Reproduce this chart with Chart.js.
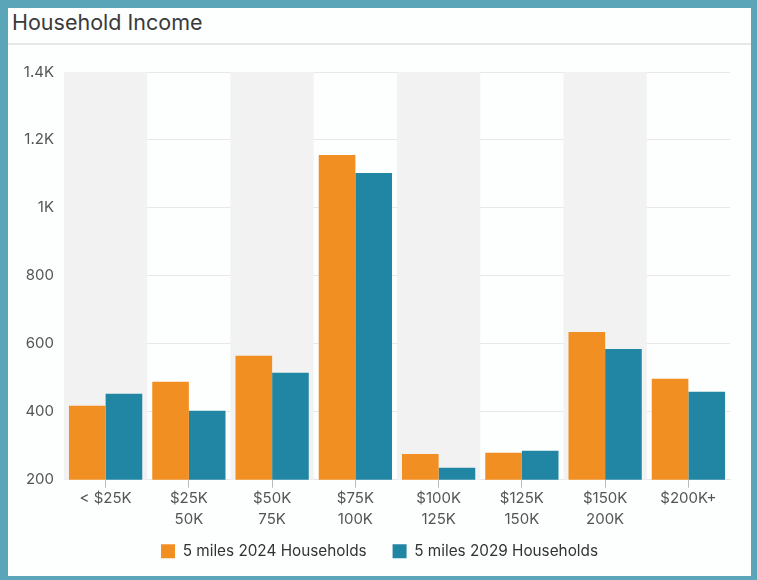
<!DOCTYPE html>
<html>
<head>
<meta charset="utf-8">
<script src="https://cdn.jsdelivr.net/npm/chart.js@4"></script>
<style>
  html, body { margin: 0; padding: 0; }
  body { width: 757px; height: 580px; background: #5ba5b8; position: relative; overflow: hidden; font-family: Inter, "Open Sans", sans-serif; }
  #panel { position: absolute; left: 8px; top: 8px; width: 743px; height: 568px; background: #fdfefe; }
  #title { height: 35px; line-height: 28px; padding-left: 4px; font-size: 21.5px; color: #3a3a3a; border-bottom: 2px solid #e6e8e8; }
  #chart-div { position: absolute; left: 0; top: 37px; width: 743px; height: 531px; }
</style>
</head>
<body>
<div id="panel">
  <div id="title">Household Income</div>
  <div id="chart-div"><canvas id="income-chart"></canvas></div>
</div>
<script>
const incomeBrackets = [['< $25K'], ['$25K', '50K'], ['$50K', '75K'], ['$75K', '100K'], ['$100K', '125K'], ['$125K', '150K'], ['$150K', '200K'], ['$200K+']];
const households2024 = [418, 488, 565, 1156, 276, 279, 635, 497];
const households2029 = [453, 403, 515, 1103, 235, 285, 585, 459];
const yTicks = [200, 400, 600, 800, 1000, 1200, 1400];

const seriesNames = ['5 miles 2024 Households', '5 miles 2029 Households'];
const seriesColors = ['#f28f22', '#2186a3'];

// alternating grey column bands behind the bars
const bandPlugin = {
    id: 'bands',
    beforeDatasetsDraw(chart) {
        const { ctx, chartArea, scales } = chart;
        const x = scales.x;
        ctx.save();
        ctx.fillStyle = '#f2f2f2';
        incomeBrackets.forEach((label, index) => {
            if (index % 2 !== 0) return;
            const center = x.getPixelForValue(index);
            const half = (x.getPixelForValue(1) - x.getPixelForValue(0)) / 2;
            ctx.fillRect(center - half, chartArea.top, half * 2, chartArea.bottom - chartArea.top);
        });
        ctx.restore();
    }
};

const chartJSConfig = {
    type: 'bar',
    data: {
        labels: incomeBrackets,
        datasets: [households2024, households2029].map((values, index) => {
            return {
                label: seriesNames[index],
                data: values,
                yAxisID: 'y',
                backgroundColor: seriesColors[index],
                borderWidth: 0,
                categoryPercentage: 0.88,
                barPercentage: 1.0,
            }
        })
    },
    options: {
        responsive: true,
        maintainAspectRatio: false,
        animation: false,
        layout: { padding: { top: 27, right: 0, bottom: 7, left: 0 } },
        plugins: {
            legend: {
                position: 'bottom',
                labels: {
                    boxWidth: 14,
                    boxHeight: 14,
                    padding: 26,
                    color: '#333',
                    font: { family: 'Inter', size: 15.3 }
                }
            },
            tooltip: { enabled: false }
        },
        scales: {
            x: {
                // labels hang into the legend's top padding, so don't clip them
                afterFit(scale) {
                    scale.height -= 12;
                    scale._computeLabelArea = () => undefined;
                },
                grid: { display: true, drawOnChartArea: false, offset: false, tickLength: 8, color: '#bbb' },
                border: { display: true, color: '#e8e8e8' },
                ticks: { color: '#555', font: { family: 'Inter', size: 15, lineHeight: 1.4 }, padding: 0, maxRotation: 0, autoSkip: false }
            },
            y: {
                min: yTicks[0],
                max: yTicks[yTicks.length - 1],
                afterFit(scale) { scale.width = 56; },
                afterBuildTicks(scale) { scale.ticks = yTicks.map((value) => ({ value })); },
                grid: { color: '#e8e8e8', drawTicks: false },
                border: { display: false },
                ticks: {
                    color: '#555',
                    padding: 10,
                    font: { family: 'Inter', size: 15 },
                    callback: (value) => value >= 1000 ? (value / 1000) + 'K' : value
                }
            },
            // empty right gutter so the legend stays centred on the whole panel
            gutter: {
                axis: 'y',
                position: 'right',
                afterFit(scale) { scale.width = 21; },
                grid: { display: false },
                border: { display: false },
                ticks: { display: false }
            }
        }
    },
    plugins: [bandPlugin]
};

const ctx = document.getElementById('income-chart').getContext('2d');
window.incomeChart = new Chart(ctx, chartJSConfig);
</script>
</body>
</html>
